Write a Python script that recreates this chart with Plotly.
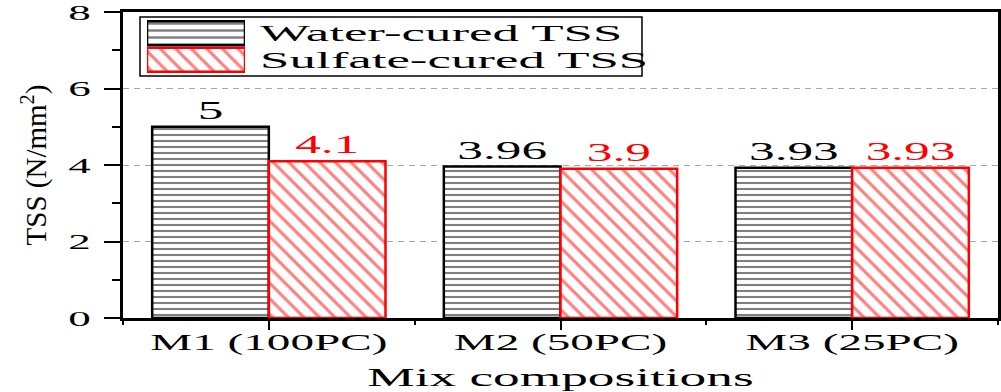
import plotly.graph_objects as go

# Tensile splitting strength per mix
categories = ["M1 (100PC)", "M2 (50PC)", "M3 (25PC)"]
water_tss = [5.0, 3.96, 3.93]
sulfate_tss = [4.1, 3.9, 3.93]
series_names = ["Water-cured TSS", "Sulfate-cured TSS"]
y_ticks = [0, 2, 4, 6, 8]

FONT = "Liberation Serif"
RED = "#ff0000"
x_pos = list(range(len(categories)))


def fmt(v):
    return f"{v:g}"


fig = go.Figure()

fig.add_trace(go.Bar(
    x=x_pos, y=water_tss, name=series_names[0],
    text=[fmt(v) for v in water_tss], textposition="outside",
    textfont=dict(family=FONT, size=25, color="black"),
    constraintext="none", cliponaxis=False,
    marker=dict(color="white",
                line=dict(color="black", width=2.5),
                pattern=dict(shape="-", fgcolor="black", bgcolor="white",
                             size=6, solidity=0.35, fillmode="overlay")),
    showlegend=False, hoverinfo="skip",
))
fig.add_trace(go.Bar(
    x=x_pos, y=sulfate_tss, name=series_names[1],
    text=[fmt(v) for v in sulfate_tss], textposition="outside",
    textfont=dict(family=FONT, size=25, color=RED),
    constraintext="none", cliponaxis=False,
    marker=dict(color="white",
                line=dict(color=RED, width=2.5),
                pattern=dict(shape="\\", fgcolor=RED, bgcolor="white",
                             size=11, solidity=0.28, fillmode="overlay")),
    showlegend=False, hoverinfo="skip",
))

# Legend swatches drawn as bars on a small auxiliary subplot
fig.add_trace(go.Bar(
    x=[1, 1], y=[1, 0], orientation="h", width=0.9,
    xaxis="x2", yaxis="y2",
    marker=dict(color="white",
                line=dict(color=["black", RED], width=2.5),
                pattern=dict(shape=["-", "\\"], fgcolor=["black", RED],
                             bgcolor="white", size=[7, 11],
                             solidity=[0.35, 0.28], fillmode="overlay")),
    showlegend=False, hoverinfo="skip",
))

L, R, T, B = 123, 3, 12, 74
W, H = 1001, 392
PW, PH = W - L - R, H - T - B


def px_x(p):
    return (p - L) / PW


def px_y(p):
    return 1 - (p - T) / PH


fig.update_layout(
    width=W, height=H,
    margin=dict(l=L, r=R, t=T, b=B, autoexpand=False),
    plot_bgcolor="white", paper_bgcolor="white",
    font=dict(family=FONT, color="black"),
    barmode="group", bargap=0.2, bargroupgap=0,
    showlegend=False,
    xaxis=dict(
        range=[-0.5, 2.5], tickmode="array", tickvals=x_pos, ticktext=categories,
        ticks="outside", ticklen=9, tickwidth=1.5, tickcolor="black",
        ticklabelstandoff=-7, ticklabeloverflow="allow",
        tickfont=dict(family=FONT, size=23, color="black"),
        minor=dict(tickvals=[-0.5, 0.5, 1.5, 2.5], ticks="outside",
                   ticklen=4, tickwidth=1.5, tickcolor="black"),
        showline=True, linecolor="black", linewidth=2.5, mirror=True,
        showgrid=False, zeroline=False, automargin=False,
        title=dict(text="Mix compositions", standoff=18,
                   font=dict(family=FONT, size=26, color="black")),
    ),
    yaxis=dict(
        range=[0, 8], tickmode="array", tickvals=y_ticks,
        ticks="outside", ticklen=16, tickwidth=1.5, tickcolor="black",
        ticklabelstandoff=9, ticklabeloverflow="allow",
        tickfont=dict(family=FONT, size=22, color="black"),
        minor=dict(dtick=1, ticks="outside", ticklen=8, tickwidth=1.5,
                   tickcolor="black", showgrid=False),
        showline=True, linecolor="black", linewidth=2.5, mirror=True,
        showgrid=True, gridcolor="#a8a8a8", gridwidth=1, griddash="6px,5px",
        zeroline=False, automargin=False,
        title=dict(text="TSS (N/mm<sup>2</sup>)", standoff=25,
                   font=dict(family=FONT, size=29, color="black")),
    ),
    xaxis2=dict(domain=[px_x(147), px_x(245)], range=[0, 1], anchor="y2",
                visible=False, fixedrange=True),
    yaxis2=dict(domain=[px_y(73), px_y(20)], range=[-0.5, 1.5], anchor="x2",
                visible=False, fixedrange=True),
)

# Legend frame and labels
fig.add_shape(type="rect", xref="paper", yref="paper",
              x0=px_x(140), x1=px_x(642), y0=px_y(76), y1=px_y(17),
              line=dict(color="black", width=1.5), fillcolor="white",
              layer="below")
for label, yc in zip(series_names, [px_y(34), px_y(60)]):
    fig.add_annotation(text=label, xref="paper", yref="paper",
                       x=px_x(258), y=yc, xanchor="left", yanchor="middle",
                       showarrow=False,
                       font=dict(family=FONT, size=23, color="black"))

# Widen the serif glyphs horizontally (text stays live SVG text)
stretch_js = """
(function(){
  var gd = document.getElementById('{plot_id}');
  var K = 2.05, KA = 2.3, KY = 1.0;
  function apply(){
    gd.querySelectorAll('svg text').forEach(function(t){
      if (!t.textContent) return;
      var cur = t.getAttribute('transform') || '';
      var base = (t.__set !== undefined && cur === t.__set) ? t.__base : cur;
      if (base) { t.setAttribute('transform', base); } else { t.removeAttribute('transform'); }
      var b = t.getBBox();
      var px, py, sx, sy;
      if (t.classList.contains('ytitle')) {
        px = b.x + b.width / 2; py = b.y + b.height; sx = 1; sy = KY;
      } else {
        var a = t.getAttribute('text-anchor') || 'start';
        sx = K;
        if (t.classList.contains('annotation-text')) { a = 'start'; sx = KA; }
        px = a === 'start' ? b.x : (a === 'end' ? b.x + b.width : b.x + b.width / 2);
        py = b.y + b.height / 2; sy = 1;
      }
      var next = (base + ' translate(' + px + ',' + py + ') scale(' + sx + ',' + sy +
                  ') translate(' + (-px) + ',' + (-py) + ')').trim();
      t.setAttribute('transform', next);
      t.__base = base; t.__set = next;
    });
  }
  apply();
  if (gd.on) gd.on('plotly_afterplot', apply);
})();
"""

fig.write_html("out.html", post_script=stretch_js,
               config={"displayModeBar": False, "responsive": False})
